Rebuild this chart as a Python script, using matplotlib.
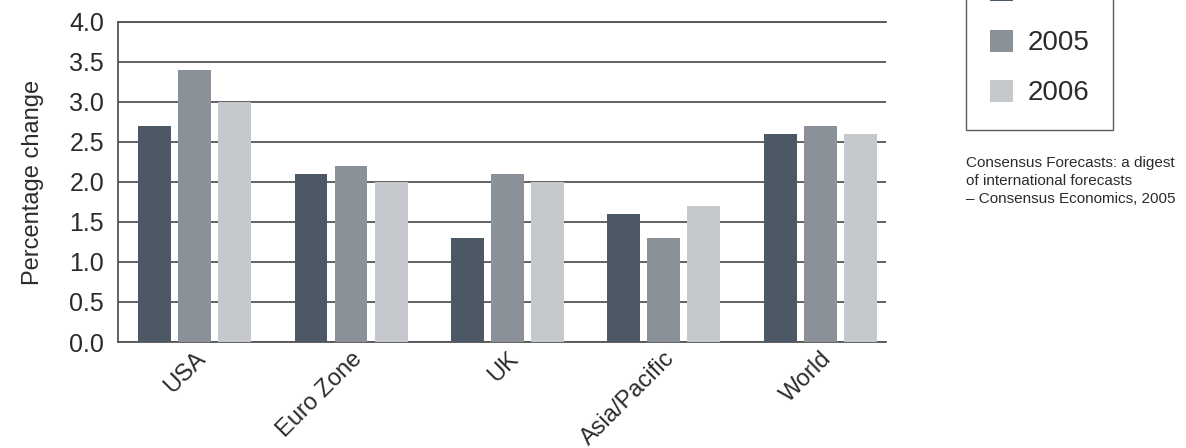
import matplotlib
matplotlib.use('Agg')
import matplotlib.pyplot as plt
import numpy as np

regions = ['USA', 'Euro Zone', 'UK', 'Asia/Pacific', 'World']
years = ['2004', '2005', '2006']
v2004 = [2.7, 2.1, 1.3, 1.6, 2.6]
v2005 = [3.4, 2.2, 2.1, 1.3, 2.7]
v2006 = [3.0, 2.0, 2.0, 1.7, 2.6]
yticks = [0.0, 0.5, 1.0, 1.5, 2.0, 2.5, 3.0, 3.5, 4.0]

colors = ['#4d5866', '#8a9199', '#c5c8cc']
plt.rcParams['font.family'] = ['Liberation Sans', 'DejaVu Sans']
text_color = '#2b2b2b'

fig = plt.figure(figsize=(11.86, 4.48), dpi=100)
ax = fig.add_axes([0.0995, 0.2366, 0.6475, 0.7144])

x = np.arange(len(regions))
width = 0.21
step = 0.256
for i, (vals, c, lab) in enumerate(zip([v2004, v2005, v2006], colors, years)):
    ax.bar(x + (i - 1) * step, vals, width, color=c, label=lab, zorder=3)

ax.set_xlim(-0.49, 4.42)
ax.set_ylim(0, 4)
ax.set_yticks(yticks)
ax.set_yticklabels(['%.1f' % t for t in yticks])
ax.set_axisbelow(True)
ax.yaxis.grid(True, color='#555555', linewidth=1.3)

ax.spines['right'].set_visible(False)
for s in ['left', 'bottom', 'top']:
    ax.spines[s].set_color('#555555')
    ax.spines[s].set_linewidth(1.3)

ax.tick_params(axis='y', length=0, pad=10, labelsize=18, labelcolor=text_color)
ax.tick_params(axis='x', length=0, pad=4, labelsize=17, labelcolor=text_color)
ax.set_xticks(x)
ax.set_xticklabels(regions, rotation=45, ha='right', rotation_mode='anchor')
ax.set_ylabel('Percentage change', fontsize=17, color=text_color, labelpad=18)

# legend, top part falls outside the figure like in the original
fig.legend(loc='lower left', bbox_to_anchor=(966 / 1186, 1 - 130 / 448),
           borderaxespad=0, fontsize=20, frameon=True, fancybox=False,
           edgecolor='#333333', handlelength=0.83, handleheight=0.83,
           handletextpad=0.55, labelspacing=0.85, borderpad=0.85,
           labelcolor=text_color)

fig.text(966 / 1186, 1 - 156 / 448,
         'Consensus Forecasts: a digest\nof international forecasts\n– Consensus Economics, 2005',
         fontsize=11, color=text_color, va='top', ha='left', linespacing=1.38)

fig.savefig('out.png', dpi=100)
